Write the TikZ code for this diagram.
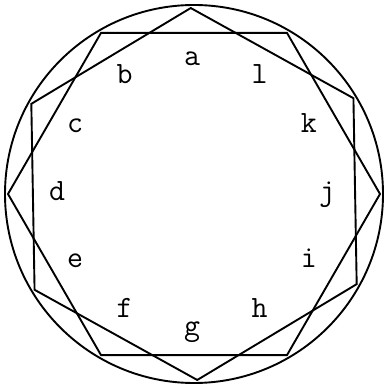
\documentclass[tikz,border=0pt]{standalone}
\usetikzlibrary{calc}
\begin{document}
\begin{tikzpicture}[x=1pt, y=1pt,
  rim/.style={line width=1.9pt, line join=miter},
  letter/.style={font=\ttfamily\fontsize{31}{31}\selectfont, inner sep=0pt,
    text height=13pt, text depth=0pt}
]
\useasboundingbox (-194,-193) rectangle (191,194);
\draw[rim] (0,0) circle (189);
% corners of the two hexagons
\foreach \k in {0,...,5} {
  \coordinate (p\k) at ({91+60*\k}:186);
  \coordinate (q\k) at ({60*\k}:186);
}
\draw[rim] (p0) -- (p1) -- (p2) -- (p3) -- (p4) -- (p5) -- cycle;
\draw[rim] (q0) -- (q1) -- (q2) -- (q3) -- (q4) -- (q5) -- cycle;
% letters round the ring
\foreach \name [count=\i from 0] in {a,b,c,d,e,f,g,h,i,j,k,l}
  \node[letter] (\name) at ($(-2,0)+({90+30*\i}:135)$) {\name};
\end{tikzpicture}
\end{document}
